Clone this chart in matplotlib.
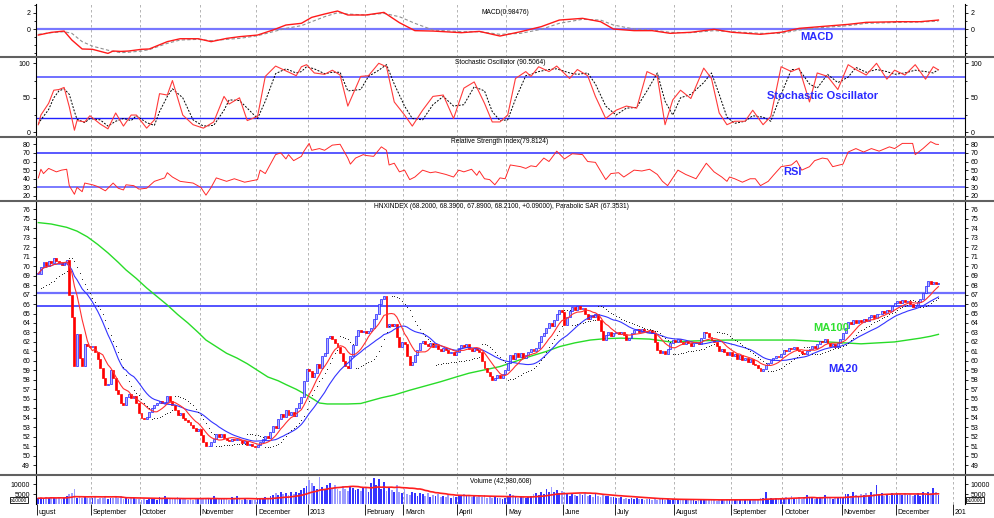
import numpy as np
import pandas as pd
import matplotlib
matplotlib.use('Agg')
import matplotlib.pyplot as plt
from matplotlib.transforms import blended_transform_factory

plt.rcParams['font.family'] = ['Liberation Sans', 'DejaVu Sans']

# ---------------- data: HNXINDEX daily, Aug 2012 .. Dec 2013 ----------------
month_labels = ['ugust', 'September', 'October', 'November', 'December', '2013',
                'February', 'March', 'April', 'May', 'June', 'July', 'August',
                'September', 'October', 'November', 'December', '201']
month_start = [0, 21, 40, 63, 85, 105, 127, 142, 163, 182, 204, 224, 247, 269,
               289, 312, 333, 355]

c_aug12 = [69.2, 69.9, 70.4, 70.0, 70.5, 70.3, 70.9, 70.5, 70.3, 70.1, 70.4, 70.6,
           67.0, 64.6, 59.5, 62.8, 60.3, 59.5, 61.8, 61.6, 61.5]
c_sep12 = [61.6, 60.9, 60.2, 59.3, 58.2, 57.4, 57.6, 59.0, 58.2, 56.9, 56.5, 55.6,
           55.3, 56.2, 56.5, 56.1, 56.3, 55.6, 54.5]
c_oct12 = [54.0, 53.9, 54.1, 54.6, 55.0, 55.3, 55.6, 55.8, 55.5, 55.7, 56.3, 55.8,
           55.3, 54.8, 54.3, 54.5, 54.0, 53.8, 53.5, 53.2, 52.9, 52.6, 52.8]
c_nov12 = [52.2, 51.4, 51.0, 51.0, 51.4, 51.8, 52.3, 52.0, 52.3, 51.9, 51.6, 51.5,
           51.8, 51.6, 51.8, 51.6, 51.3, 51.5, 51.1, 51.2, 51.0, 50.9]
c_dec12 = [51.1, 51.4, 51.8, 52.1, 51.9, 52.5, 53.1, 52.9, 53.9, 54.4, 54.1, 54.8,
           54.3, 54.6, 54.2, 55.0, 55.6, 56.2, 57.9, 59.1]
c_jan13 = [58.9, 58.3, 58.7, 59.7, 59.3, 60.5, 60.8, 62.4, 62.6, 62.3, 61.9, 61.5,
           60.8, 60.0, 59.5, 59.2, 60.5, 61.7, 62.6, 63.3, 63.0, 63.2]
c_feb13 = [62.9, 63.2, 63.5, 64.4, 65.0, 66.0, 66.5, 66.9, 63.6, 63.9, 63.7, 63.9,
           62.5, 61.5, 62.0]
c_mar13 = [61.8, 60.5, 59.6, 59.9, 60.6, 61.2, 61.9, 62.1, 61.8, 61.6, 61.9, 61.5,
           61.7, 61.3, 61.0, 61.4, 61.1, 60.8, 60.9, 60.6, 60.9]
c_apr13 = [61.4, 61.7, 61.5, 61.8, 61.3, 61.0, 61.4, 61.1, 60.9, 60.0, 59.2, 58.8,
           58.4, 58.0, 58.2, 58.5, 58.2, 58.6, 59.0]
c_may13 = [59.8, 60.6, 60.2, 60.8, 60.4, 60.8, 60.3, 60.6, 60.9, 61.3, 61.0, 61.4,
           62.0, 62.6, 62.9, 63.5, 64.0, 63.7, 64.3, 65.0, 65.4, 65.2]
c_jun13 = [63.8, 64.6, 65.3, 65.7, 65.4, 65.8, 65.5, 65.6, 65.0, 64.4, 64.8, 64.6,
           64.9, 64.3, 63.2, 62.2, 62.7, 63.0, 62.6, 62.9]
c_jul13 = [63.1, 62.8, 63.0, 62.7, 62.2, 62.4, 62.9, 63.3, 63.4, 63.1, 63.4, 63.2,
           63.0, 63.3, 62.9, 62.0, 61.2, 60.8, 61.0, 60.7, 61.3, 61.9, 62.2]
c_aug13 = [62.0, 62.3, 62.0, 61.8, 62.1, 61.9, 61.6, 61.9, 62.0, 61.8, 62.4, 63.1,
           62.9, 62.5, 62.2, 62.0, 61.6, 61.0, 61.3, 60.9, 60.6, 60.9]
c_sep13 = [60.5, 60.7, 60.2, 60.6, 60.1, 60.3, 59.9, 60.2, 59.7, 59.6, 59.3, 58.9,
           59.1, 59.6, 59.8, 60.1, 60.3, 60.5, 60.4, 60.7]
c_oct13 = [61.2, 61.0, 61.4, 61.3, 61.5, 61.2, 61.0, 60.8, 60.7, 61.0, 61.3, 61.6,
           61.4, 61.8, 62.1, 62.0, 62.3, 61.9, 61.6, 61.8, 61.5, 61.9, 62.3]
c_nov13 = [62.9, 63.5, 64.1, 63.9, 64.3, 64.0, 64.3, 64.1, 64.4, 64.2, 64.6, 64.8,
           64.5, 64.9, 65.0, 65.3, 65.1, 65.4, 65.3, 65.8, 66.1]
c_dec13 = [66.3, 66.1, 66.4, 66.2, 66.3, 66.0, 65.7, 65.9, 66.2, 66.5, 67.2, 67.9,
           68.4, 68.1, 68.3, 68.12, 68.21]

# volume in units of 10000 shares
v_aug12 = [2800, 3100, 2600, 3300, 2900, 3500, 2700, 3000, 3400, 2600, 3100, 3800,
           4900, 5600, 7400, 3200, 3900, 2900, 3400, 2700, 3200]
v_sep12 = [2900, 3300, 2600, 3100, 2800, 3500, 2400, 3200, 3000, 3600, 2700, 3900,
           2500, 3100, 2600, 3400, 2800, 2200, 2500]
v_oct12 = [2100, 2400, 1900, 2600, 2300, 2800, 2000, 3500, 2700, 4200, 3100, 2500,
           2900, 2200, 3400, 2600, 2300, 2800, 2000, 2500, 1800, 2400, 2200]
v_nov12 = [2600, 3100, 2800, 2400, 2200, 4200, 2900, 2600, 2300, 3000, 2500, 2100,
           3300, 2700, 3900, 2400, 2000, 2300, 1900, 2100, 1700, 1900]
v_dec12 = [2200, 2600, 3000, 3400, 2900, 4200, 4700, 5300, 4500, 6000, 4900, 5500,
           4300, 5800, 5000, 6200, 5600, 7200, 8200, 9000]
v_jan13 = [12000, 10500, 9000, 7800, 13600, 8800, 7200, 9500, 10800, 8200, 9600, 7400,
           6800, 8900, 7700, 6500, 9100, 8300, 7000, 7600, 6400, 7900]
v_feb13 = [8800, 6000, 10500, 13200, 9400, 12500, 7800, 11000, 6500, 8300, 7100, 5800,
           9800, 6200, 5500]
v_mar13 = [7600, 5200, 4400, 6000, 5400, 3900, 5700, 4800, 4200, 5300, 3600, 4700,
           3900, 5100, 3400, 4000, 3500, 4300, 3200, 3800, 3300]
v_apr13 = [4600, 3800, 4900, 4100, 4700, 3600, 4300, 3500, 3900, 3300, 4400, 3100,
           3700, 2900, 3400, 2800, 3200, 2600, 3000]
v_may13 = [3400, 4900, 4300, 3600, 3100, 3800, 3300, 2900, 3600, 4200, 5200, 5600,
           4600, 6000, 5100, 7600, 6200, 8600, 5800, 6900, 5300, 6400]
v_jun13 = [5900, 4800, 4200, 5200, 4500, 3800, 4900, 4300, 5600, 3900, 4500, 3600,
           5100, 4000, 3400, 4600, 3800, 4200, 3300, 3700]
v_jul13 = [3200, 2800, 3500, 2500, 3000, 2300, 2700, 2400, 2900, 2200, 2600, 2000,
           2500, 2300, 2100, 2700, 1900, 2400, 2200, 2000, 2500, 1800, 2300]
v_aug13 = [2100, 1900, 2300, 1700, 2000, 2200, 1800, 2100, 1600, 2400, 1900, 2000,
           1700, 2200, 1800, 2300, 1600, 2000, 2100, 1700, 2400, 1900]
v_sep13 = [2000, 1800, 2200, 1700, 2300, 1900, 2100, 1800, 2500, 2000, 2200, 2700,
           3100, 6200, 2600, 3000, 2400, 2800, 2500, 3200]
v_oct13 = [2800, 3400, 2600, 4100, 3000, 2700, 3500, 2500, 3100, 4500, 2900, 3300,
           2600, 3000, 3700, 2700, 4600, 2800, 3200, 2500, 3100, 2800, 3400]
v_nov13 = [3600, 4800, 5200, 4100, 5900, 4500, 3900, 5000, 4400, 5500, 4200, 6100,
           5100, 9600, 4700, 5300, 4000, 4800, 3900, 5400, 4600]
v_dec13 = [4800, 5200, 4300, 5600, 4500, 5000, 3900, 4700, 5300, 4200, 5800, 4600,
           6200, 5400, 8200, 6000, 4298]

# MA100 (day index, value)
ma100_day = [0, 5, 11, 15, 19, 23, 27, 31, 34, 38, 42, 46, 50, 54, 58, 62, 65, 69, 73,
             77, 81, 85, 89, 93, 96, 100, 104, 107, 109, 112, 115, 120, 125, 129, 133,
             138, 144, 150, 156, 162, 167, 173, 179, 185, 191, 197, 202, 208, 214, 220,
             226, 232, 237, 245, 254, 267, 280, 293, 306, 319, 332, 337, 342, 346, 349]
ma100_val = [74.6, 74.45, 74.1, 73.7, 73.1, 72.3, 71.4, 70.4, 69.6, 68.7, 67.7, 66.8,
             65.9, 64.9, 64.0, 63.0, 62.2, 61.5, 60.8, 60.3, 59.7, 59.0, 58.3, 57.9,
             57.5, 57.0, 56.4, 55.9, 55.55, 55.45, 55.45, 55.45, 55.5, 55.8, 56.1, 56.4,
             56.9, 57.35, 57.8, 58.3, 58.7, 59.05, 59.4, 59.95, 60.5, 61.0, 61.5, 61.9,
             62.2, 62.35, 62.4, 62.35, 62.3, 62.0, 62.1, 62.2, 62.2, 62.2, 62.0, 61.8,
             62.0, 62.2, 62.4, 62.6, 62.8]

# MACD and signal
macd_day = [0, 5, 10, 13, 17, 21, 27, 29, 32, 35, 40, 43, 50, 55, 62, 67, 73, 78, 85,
            91, 96, 102, 106, 111, 116, 120, 127, 134, 140, 146, 153, 164, 171, 179,
            187, 195, 202, 211, 218, 223, 231, 238, 245, 253, 262, 269, 280, 288, 295,
            303, 314, 321, 334, 342, 349]
macd_val = [-0.74, -0.41, -0.25, -1.35, -2.45, -2.49, -2.99, -2.70, -2.75, -2.70,
            -2.49, -2.45, -1.55, -1.19, -1.19, -1.55, -1.15, -0.94, -0.74, -0.12, 0.49,
            0.70, 1.43, 1.84, 2.21, 1.72, 1.72, 2.04, 0.78, -0.20, -0.25, -0.45, -0.29,
            -0.86, -0.33, 0.29, 1.10, 1.31, 0.90, 0.0, -0.20, -0.20, -0.53, -0.40,
            -0.04, -0.40, -0.65, -0.40, 0.08, 0.29, 0.57, 0.82, 0.90, 0.90, 1.10]
macd_sig = [-0.65, -0.45, -0.33, -0.53, -1.55, -2.10, -2.60, -2.75, -2.90, -2.85,
            -2.70, -2.53, -1.76, -1.35, -1.27, -1.43, -1.27, -1.15, -0.82, -0.33, 0.08,
            0.41, 0.90, 1.51, 2.00, 1.84, 1.72, 1.92, 1.51, 0.70, -0.12, -0.33, -0.33,
            -0.65, -0.53, -0.04, 0.70, 1.19, 1.10, 0.49, 0.0, -0.12, -0.41, -0.45,
            -0.20, -0.33, -0.53, -0.53, -0.12, 0.16, 0.41, 0.70, 0.82, 0.86, 0.98]

# Stochastic oscillator %K and %D
stoch_day = [0, 1, 4, 6, 8, 10, 12, 14, 15, 18, 20, 24, 27, 30, 33, 36, 38, 42, 45, 47,
             50, 52, 56, 60, 64, 68, 72, 74, 78, 81, 85, 88, 92, 96, 100, 102, 104, 107,
             111, 114, 117, 120, 125, 128, 132, 135, 138, 142, 145, 149, 153, 157, 161,
             165, 169, 173, 176, 179, 182, 185, 189, 191, 194, 198, 201, 206, 209, 213,
             216, 220, 224, 228, 232, 236, 240, 243, 246, 249, 253, 258, 261, 264, 267,
             270, 274, 277, 281, 284, 288, 292, 295, 299, 302, 306, 310, 314, 317, 321,
             325, 329, 332, 336, 340, 344, 347, 349]
stoch_k = [11, 25, 42, 61, 62, 65, 37, 3, 17, 15, 24, 12, 5, 28, 9, 25, 25, 6, 18, 56,
           54, 75, 25, 11, 6, 15, 52, 41, 50, 17, 23, 81, 96, 89, 82, 95, 98, 86, 84, 90,
           83, 38, 81, 82, 100, 95, 44, 25, 9, 32, 52, 54, 20, 64, 73, 42, 15, 15, 25,
           78, 88, 81, 95, 88, 96, 78, 91, 82, 52, 20, 32, 38, 35, 88, 81, 11, 47, 61,
           49, 93, 78, 28, 11, 16, 16, 32, 11, 23, 95, 88, 93, 44, 86, 81, 62, 98, 91,
           83, 100, 77, 90, 83, 98, 77, 95, 90.5]
stoch_d = [12, 18, 33, 50, 60, 63, 55, 30, 19, 14, 20, 18, 9, 16, 20, 17, 24, 14, 10, 30,
           52, 63, 50, 18, 9, 10, 32, 47, 46, 35, 20, 45, 85, 92, 86, 88, 95, 92, 85, 87,
           87, 60, 62, 81, 90, 98, 70, 38, 20, 18, 40, 52, 38, 40, 66, 60, 30, 17, 18,
           48, 82, 84, 88, 91, 92, 86, 84, 86, 70, 38, 25, 35, 36, 60, 86, 45, 25, 50,
           55, 72, 86, 55, 22, 13, 16, 24, 22, 16, 55, 91, 91, 70, 64, 84, 72, 80, 94,
           87, 91, 88, 84, 86, 90, 88, 86, 91]

# RSI
rsi_day = [0, 1, 2, 4, 7, 9, 11, 12, 14, 15, 17, 18, 21, 23, 26, 29, 31, 33, 34, 37, 39,
           42, 45, 49, 50, 52, 55, 60, 63, 65, 67, 69, 73, 76, 80, 85, 86, 88, 90, 92,
           94, 96, 97, 99, 102, 103, 105, 106, 109, 111, 114, 117, 120, 121, 123, 126,
           127, 130, 133, 134, 135, 136, 138, 140, 142, 144, 146, 149, 152, 154, 158,
           161, 163, 165, 168, 170, 171, 173, 175, 177, 179, 181, 183, 187, 189, 191,
           193, 196, 198, 201, 204, 207, 211, 213, 216, 220, 222, 225, 227, 231, 234,
           237, 240, 242, 244, 246, 248, 251, 255, 259, 262, 265, 267, 268, 270, 273,
           276, 278, 280, 283, 285, 288, 292, 294, 296, 299, 301, 304, 306, 308, 312,
           314, 317, 320, 323, 326, 330, 332, 335, 339, 340, 343, 346, 348, 349]
rsi_val = [41, 51, 46, 52, 48, 50, 51, 32, 22, 30, 25, 35, 33, 31, 26, 35, 29, 27, 33,
           32, 28, 29, 37, 41, 47, 42, 37, 35, 30, 21, 30, 41, 37, 40, 36, 39, 50, 46, 57,
           68, 70, 63, 68, 61, 66, 72, 81, 73, 75, 73, 79, 80, 64, 57, 64, 68, 67, 66, 77,
           75, 73, 56, 58, 48, 50, 39, 42, 50, 47, 48, 45, 42, 50, 48, 51, 44, 49, 40, 39,
           33, 41, 40, 56, 54, 52, 55, 54, 64, 60, 72, 63, 69, 68, 60, 59, 39, 46, 47, 42,
           50, 49, 51, 45, 37, 32, 41, 50, 45, 40, 58, 48, 42, 37, 42, 40, 36, 40, 40, 32,
           37, 44, 54, 56, 61, 50, 54, 61, 64, 63, 54, 57, 71, 75, 71, 75, 72, 77, 75, 81,
           81, 68, 75, 83, 80, 79.8]

close = np.array(c_aug12 + c_sep12 + c_oct12 + c_nov12 + c_dec12 + c_jan13 + c_feb13 +
                 c_mar13 + c_apr13 + c_may13 + c_jun13 + c_jul13 + c_aug13 + c_sep13 +
                 c_oct13 + c_nov13 + c_dec13)
volume = np.array(v_aug12 + v_sep12 + v_oct12 + v_nov12 + v_dec12 + v_jan13 + v_feb13 +
                  v_mar13 + v_apr13 + v_may13 + v_jun13 + v_jul13 + v_aug13 + v_sep13 +
                  v_oct13 + v_nov13 + v_dec13, dtype=float)
n = min(len(close), len(volume))
close = close[:n]
volume = volume[:n]
x = np.arange(n)

ma_fast = pd.Series(close).rolling(8, min_periods=1).mean().values
ma20 = pd.Series(close).rolling(20, min_periods=1).mean().values
vol_ma = pd.Series(volume).rolling(20, min_periods=1).mean().values


def psar(c, step=0.02, amax=0.2):
    out = np.full(len(c), np.nan)
    up, af, ep, s = True, step, c[0], c[0] - 1.5
    for t in range(1, len(c)):
        s = s + af * (ep - s)
        if up:
            if c[t] < s:
                up, s, ep, af = False, ep, c[t], step
            elif c[t] > ep:
                ep, af = c[t], min(af + step, amax)
        else:
            if c[t] > s:
                up, s, ep, af = True, ep, c[t], step
            elif c[t] < ep:
                ep, af = c[t], min(af + step, amax)
        out[t] = s
    return out


sar = psar(close)

# ---------------- figure ----------------
W, H = 995, 518
fig = plt.figure(figsize=(W / 100, H / 100), dpi=100)
fig.patch.set_facecolor('white')


def fx(px):
    return px / W


def fy(py):
    return 1 - py / H


LEFT, RIGHT = 36, 965


def panel(top, bot):
    ax = fig.add_axes([fx(LEFT), fy(bot), (RIGHT - LEFT) / W, (bot - top) / H])
    ax.set_xlim(-0.9, 359.3)
    for s in ['top', 'bottom']:
        ax.spines[s].set_visible(False)
    for s in ['left', 'right']:
        ax.spines[s].set_linewidth(0.8)
    ax.tick_params(axis='y', which='both', left=True, right=True, labelleft=True,
                   labelright=True, direction='out', length=2.2, width=0.6,
                   labelsize=5, pad=2)
    ax.tick_params(axis='y', which='minor', length=1.5)
    ax.tick_params(axis='x', bottom=False, labelbottom=False)
    for b in month_start[1:]:
        ax.axvline(b - 0.5, color='#a8a8a8', ls=(0, (3, 3)), lw=0.6, zorder=0)
    return ax


ax_macd = panel(4, 57.3)
ax_sto = panel(57.3, 136.5)
ax_rsi = panel(136.5, 201)
ax_px = panel(201, 475)
ax_vol = panel(475, 504)

# MACD
ax_macd.set_ylim(-3.47, 3.07)
ax_macd.set_yticks([0, 2])
ax_macd.set_yticks([-3, -2, -1, 1, 3], minor=True)
ax_macd.axhline(0, color='#7878ff', lw=1.6, zorder=1)
ax_macd.plot(macd_day, macd_sig, color='#909090', lw=0.8, ls=(0, (3, 2)), zorder=2)
ax_macd.plot(macd_day, macd_val, color='#ff1a1a', lw=1.0, zorder=3)

# Stochastic
ax_sto.set_ylim(-6.1, 108.7)
ax_sto.set_yticks([0, 50, 100])
ax_sto.set_yticks([25, 75], minor=True)
ax_sto.axhline(80, color='#7070ff', lw=1.4, zorder=1)
ax_sto.axhline(20, color='#2020ff', lw=1.0, zorder=1)
ax_sto.plot(stoch_day, stoch_d, color='black', lw=0.7, ls=(0, (2, 1.5)), zorder=2)
ax_sto.plot(stoch_day, stoch_k, color='#ff3a3a', lw=0.8, zorder=3)

# RSI
ax_rsi.set_ylim(14.2, 89)
ax_rsi.set_yticks(np.arange(20, 81, 10))
ax_rsi.axhline(70, color='#3c3cff', lw=1.2, zorder=1)
ax_rsi.axhline(30, color='#7070ff', lw=1.3, zorder=1)
ax_rsi.plot(rsi_day, rsi_val, color='#ff2a2a', lw=0.7, zorder=3)

# Price
ax_px.set_ylim(47.95, 76.88)
ax_px.set_yticks(np.arange(49, 77, 1))
ax_px.axhline(67.2, color='#7070ff', lw=1.6, zorder=1)
ax_px.axhline(65.75, color='#2424ff', lw=1.1, zorder=1)
prev = np.r_[close[0], close[:-1]]
up = close >= prev
body_lo = np.minimum(prev, close)
body_h = np.maximum(np.abs(close - prev), 0.06)
ax_px.bar(x[up], body_h[up], bottom=body_lo[up], width=0.75, color='#b4b4ff',
          edgecolor='#1e1eff', linewidth=0.5, zorder=3)
ax_px.bar(x[~up], body_h[~up], bottom=body_lo[~up], width=0.75, color='#ff0000',
          edgecolor='#ff0000', linewidth=0.5, zorder=3)
ax_px.plot(ma100_day, ma100_val, color='#28dc28', lw=1.0, zorder=2)
ax_px.plot(x, ma20, color='#3434ff', lw=0.8, zorder=4)
ax_px.plot(x, ma_fast, color='#ff3030', lw=0.8, zorder=4)
ax_px.scatter(x, sar, s=0.5, color='#202020', linewidths=0, zorder=4)

# Volume
ax_vol.set_ylim(-150, 14800)
ax_vol.set_yticks([5000, 10000])
ax_vol.set_yticklabels(['5000', '10000'])
vcol = np.where(up, '#3434ff', '#9c9cff')
ax_vol.bar(x, volume, width=0.7, color=vcol, zorder=2)
ax_vol.plot(x, vol_ma, color='#ff1e1e', lw=1.2, zorder=3)
ax_vol.set_xticks([b - 0.5 for b in month_start])
ax_vol.tick_params(axis='x', bottom=True, labelbottom=False, direction='out',
                   length=8, width=0.6)
trans = blended_transform_factory(ax_vol.transData, ax_vol.transAxes)
for b, lab in zip(month_start, month_labels):
    ax_vol.text(b + 0.2, -0.30, lab, transform=trans, ha='left', va='center',
                fontsize=5, clip_on=False)

# panel separators
for ysep in [57.3, 136.5, 201, 475]:
    fig.add_artist(plt.Line2D([0.0, fx(993)], [fy(ysep), fy(ysep)],
                              color='#606060', lw=1.5))

# panel titles
fig.text(fx(505), fy(12.5), 'MACD(0.98476)', ha='center', va='center', fontsize=4.8)
fig.text(fx(500), fy(62.3), 'Stochastic Oscillator (90.5064)', ha='center',
         va='center', fontsize=4.8)
fig.text(fx(500), fy(141.7), 'Relative Strength Index(79.8124)', ha='center',
         va='center', fontsize=4.8)
fig.text(fx(501), fy(206), 'HNXINDEX (68.2000, 68.3900, 67.8900, 68.2100, +0.09000), '
         'Parabolic SAR (67.3531)', ha='center', va='center', fontsize=4.8)
fig.text(fx(501), fy(481.5), 'Volume (42,980,608)', ha='center', va='center',
         fontsize=4.8)

# x10000 boxes
for px_ in [19, 975]:
    fig.text(fx(px_), fy(500), 'x10000', ha='center', va='center', fontsize=3.5,
             bbox=dict(boxstyle='square,pad=0.15', fc='white', ec='black', lw=0.6))

# annotations
blue = '#2a2aff'
fig.text(fx(800), fy(37), 'MACD', color=blue, fontsize=8, fontweight='bold',
         ha='left', va='center')
fig.text(fx(767), fy(96), 'Stochastic Oscillator', color=blue, fontsize=8,
         fontweight='bold', ha='left', va='center')
fig.text(fx(783), fy(172), 'RSI', color=blue, fontsize=8, fontweight='bold',
         ha='left', va='center')
fig.text(fx(813), fy(328), 'MA100', color='#30e030', fontsize=8, fontweight='bold',
         ha='left', va='center')
fig.text(fx(828), fy(369.5), 'MA20', color=blue, fontsize=8, fontweight='bold',
         ha='left', va='center')

fig.savefig('out.png', dpi=100)
